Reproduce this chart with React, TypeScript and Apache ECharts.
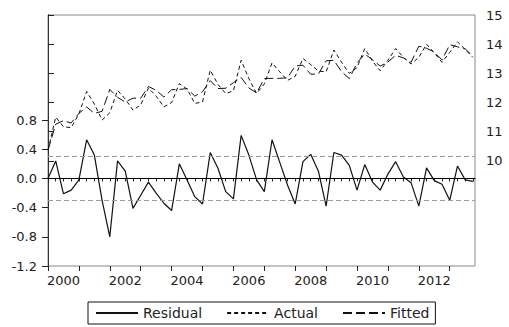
import React, { useEffect, useRef } from "react";
import * as echarts from "echarts";

// Quarterly observations 2000Q1 .. 2013Q4 (index 0..55)
const residual: number[] = [
  0.0, 0.24, -0.21, -0.16, -0.02, 0.53, 0.32, -0.3, -0.8, 0.24,
  0.1, -0.41, -0.23, -0.05, -0.2, -0.34, -0.44, 0.2, -0.02, -0.25,
  -0.35, 0.355, 0.14, -0.18, -0.28, 0.59, 0.32, -0.02, -0.18, 0.53,
  0.22, -0.09, -0.35, 0.23, 0.33, 0.1, -0.38, 0.355, 0.32, 0.18,
  -0.16, 0.19, -0.05, -0.16, 0.06, 0.23, 0.02, -0.06, -0.38, 0.145,
  -0.03, -0.08, -0.3, 0.17, -0.02, -0.04,
];
const actual: number[] = [
  10.37, 11.5, 11.17, 11.14, 11.61, 12.38, 11.95, 11.4, 11.65, 12.42,
  12.12, 11.74, 11.92, 12.5, 12.22, 11.85, 12.0, 12.65, 12.46, 11.97,
  12.02, 13.11, 12.62, 12.31, 12.4, 13.45, 12.82, 12.31, 12.64, 13.36,
  13.05, 12.76, 12.9, 13.51, 13.3, 13.08, 13.05, 13.8, 13.38, 13.0,
  13.2, 13.85, 13.42, 13.09, 13.45, 13.85, 13.55, 13.32, 13.55, 14.0,
  13.7, 13.38, 13.72, 14.08, 13.82, 13.55,
];
const fitted: number[] = [
  10.37, 11.26, 11.38, 11.3, 11.63, 11.85, 11.63, 11.7, 12.45, 12.18,
  12.02, 12.15, 12.15, 12.55, 12.42, 12.19, 12.44, 12.45, 12.48, 12.22,
  12.37, 12.75, 12.48, 12.49, 12.68, 12.86, 12.5, 12.33, 12.82, 12.83,
  12.83, 12.85, 13.25, 13.28, 12.97, 12.98, 13.43, 13.45, 13.06, 12.82,
  13.36, 13.66, 13.47, 13.25, 13.39, 13.62, 13.53, 13.38, 13.93, 13.86,
  13.73, 13.46, 13.98, 13.91, 13.84, 13.59,
];
const firstYear = 2000;
const yearLabels: number[] = [2000, 2002, 2004, 2006, 2008, 2010, 2012];
const leftTicks: number[] = [-1.2, -0.8, -0.4, 0, 0.4, 0.8];
const rightTicks: number[] = [10, 11, 12, 13, 14, 15];
const bandLevel = 0.3;

const FONT = "DejaVu Sans";
const TXT = "#222";

export default function App() {
  const ref = useRef<HTMLDivElement>(null);
  useEffect(() => {
    if (!ref.current) return;
    const chart = echarts.init(ref.current, undefined, { renderer: "svg" });
    const quarterTicks = residual.map((_, i) => i);
    const yearTicks = quarterTicks.filter((i) => i % 4 === 0);
    const labelPos = yearLabels.map((y) => (y - firstYear) * 4 + 2);
    const toPairs = (arr: number[]) => arr.map((v, i) => [i, v]);

    chart.setOption({
      animation: false,
      backgroundColor: "#fff",
      grid: {
        left: 48,
        top: 15,
        width: 427,
        height: 251,
        show: true,
        borderColor: "#8a8a8a",
        borderWidth: 1,
      },
      legend: {
        left: 88,
        top: 302,
        orient: "horizontal",
        itemWidth: 42,
        itemHeight: 12,
        itemGap: 24,
        padding: [4, 6, 4, 7],
        borderColor: "#111",
        borderWidth: 1,
        itemStyle: { opacity: 0 },
        textStyle: { fontFamily: FONT, fontSize: 14, color: TXT },
        data: ["Residual", "Actual", "Fitted"],
      },
      xAxis: [
        {
          type: "value",
          min: 0,
          max: 55.27,
          interval: 1,
          axisLine: { show: true, lineStyle: { color: "#000", width: 1 } },
          axisTick: {
            show: true,
            customValues: quarterTicks,
            length: 3,
            lineStyle: { color: "#222" },
          },
          axisLabel: { show: false },
          splitLine: { show: false },
        },
        {
          type: "value",
          position: "bottom",
          min: 0,
          max: 55.27,
          interval: 1,
          axisLine: { show: false },
          axisTick: {
            show: true,
            customValues: yearTicks,
            length: 5,
            lineStyle: { color: "#222" },
          },
          axisLabel: {
            show: true,
            customValues: labelPos,
            margin: 8,
            fontFamily: FONT,
            fontSize: 13,
            color: TXT,
            formatter: (v: number) => String(firstYear + Math.round((v - 2) / 4)),
          },
          splitLine: { show: false },
        },
      ],
      yAxis: [
        {
          type: "value",
          position: "left",
          min: -1.2,
          max: 2.24,
          axisLine: { show: true, lineStyle: { color: "#000", width: 1 } },
          axisTick: {
            show: true,
            customValues: leftTicks,
            length: 6,
            lineStyle: { color: "#222" },
          },
          axisLabel: {
            show: true,
            customValues: leftTicks,
            margin: 11,
            fontFamily: FONT,
            fontSize: 13,
            color: TXT,
            formatter: (v: number) => v.toFixed(1),
          },
          splitLine: { show: false },
        },
        {
          type: "value",
          position: "right",
          min: 6.4,
          max: 15,
          axisLine: { show: true, lineStyle: { color: "#333", width: 1 } },
          axisTick: {
            show: true,
            customValues: rightTicks,
            length: 6,
            lineStyle: { color: "#222" },
          },
          axisLabel: {
            show: true,
            customValues: rightTicks,
            margin: 11,
            fontFamily: FONT,
            fontSize: 13,
            color: TXT,
            formatter: (v: number) => String(v),
          },
          splitLine: { show: false },
        },
      ],
      series: [
        {
          name: "Residual",
          type: "line",
          xAxisIndex: 0,
          yAxisIndex: 0,
          data: toPairs(residual),
          symbol: "none",
          lineStyle: { color: "#111", width: 1.2, type: "solid" },
          itemStyle: { color: "#111" },
          z: 3,
          markLine: {
            silent: true,
            symbol: ["none", "none"],
            label: { show: false },
            data: [
              { yAxis: 0, lineStyle: { color: "#000", width: 1, type: "solid" } },
              { yAxis: bandLevel, lineStyle: { color: "#9a9a9a", width: 1, type: [5, 3] } },
              { yAxis: -bandLevel, lineStyle: { color: "#9a9a9a", width: 1, type: [5, 3] } },
            ],
          },
        },
        {
          name: "Actual",
          type: "line",
          xAxisIndex: 0,
          yAxisIndex: 1,
          data: toPairs(actual),
          symbol: "none",
          lineStyle: { color: "#111", width: 1, type: [4, 3] },
          itemStyle: { color: "#111" },
          z: 2,
        },
        {
          name: "Fitted",
          type: "line",
          xAxisIndex: 0,
          yAxisIndex: 1,
          data: toPairs(fitted),
          symbol: "none",
          lineStyle: { color: "#111", width: 1, type: [9, 4] },
          itemStyle: { color: "#111" },
          z: 2,
        },
      ],
    });
    return () => chart.dispose();
  }, []);

  return (
    <div
      ref={ref}
      style={{ position: "absolute", left: 0, top: 0, width: 509, height: 327 }}
    />
  );
}
